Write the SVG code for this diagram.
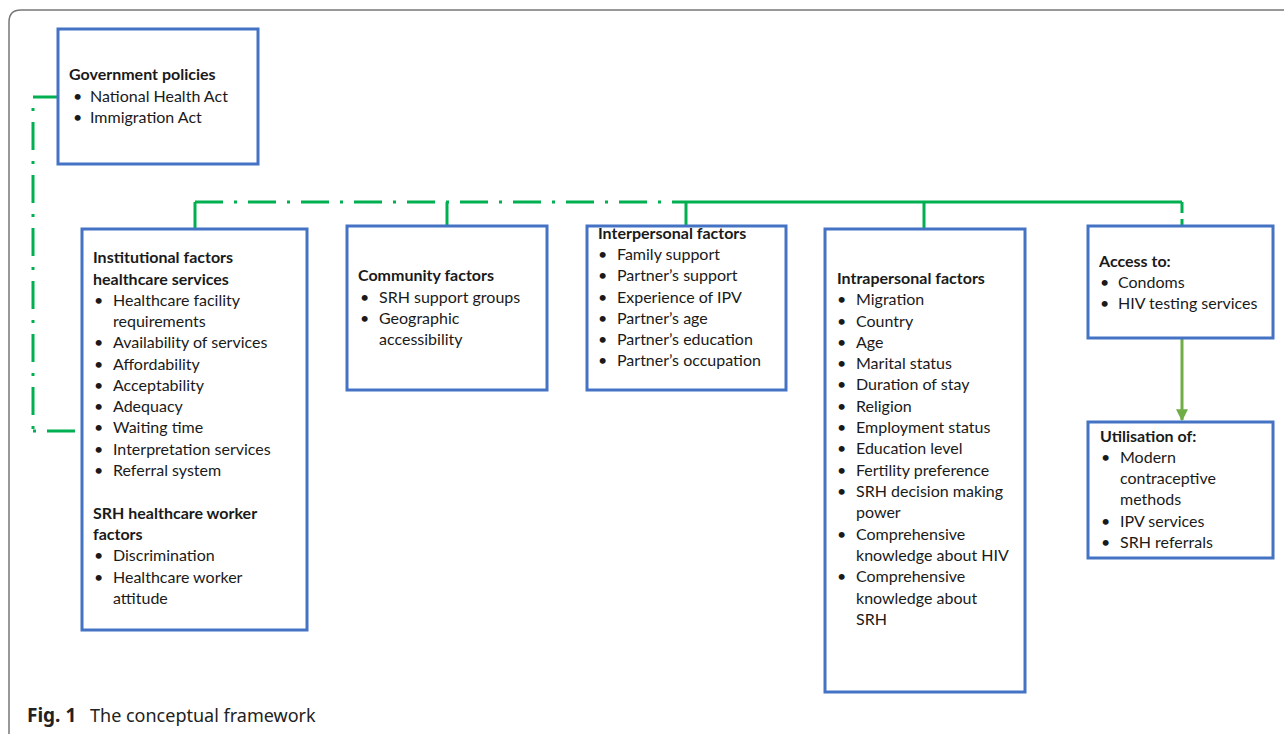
<svg xmlns="http://www.w3.org/2000/svg" width="1284" height="734" viewBox="0 0 1284 734">
<style>
.box{fill:#fff;stroke:#4472C4;stroke-width:3}
text{font-family:Lato,"Open Sans",sans-serif;font-size:16px;fill:#1a1a1a}
.t{font-weight:bold}
.dd{fill:none;stroke:#00B050;stroke-width:3;stroke-dasharray:28 11 3 11}
.sl{fill:none;stroke:#00B050;stroke-width:3}
.cap{font-family:"Noto Sans","Open Sans",sans-serif;font-size:18px;fill:#222}
</style>
<defs>
<marker id="ah" viewBox="0 0 10 10" refX="9" refY="5" markerWidth="4" markerHeight="4" orient="auto">
<path d="M0,0 L10,5 L0,10 z" fill="#70AD47"/>
</marker>
</defs>
<rect x="0" y="0" width="1284" height="734" fill="#fff"/>
<path d="M9,734 V22 Q9,10 21,10 H1284" fill="none" stroke="#777" stroke-width="1.5"/>

<g id="connectors">
<path class="sl" d="M33,97 H58"/>
<path class="dd" d="M33,97 V431" stroke-dashoffset="28"/>
<path class="dd" d="M33,431 H82" stroke-dashoffset="39"/>
<path class="sl" d="M195,229 V202"/>
<path class="dd" d="M195,202 H672"/>
<path class="sl" d="M672,202 H1182"/>
<path class="sl" d="M447,202 V226"/>
<path class="sl" d="M686,202 V226"/>
<path class="sl" d="M924,202 V229"/>
<path class="sl" d="M1182,202 V226" stroke-dasharray="11 6 10"/>
<path d="M1182,338 V420" stroke="#70AD47" stroke-width="3" fill="none" marker-end="url(#ah)"/>
</g>

<g id="gov">
<rect class="box" x="58" y="29" width="200" height="135"/>
<text class="t" x="69" y="80">Government policies</text>
<text x="73" y="102">•</text><text x="90" y="102">National Health Act</text>
<text x="73" y="123">•</text><text x="90" y="123">Immigration Act</text>
</g>

<g id="institutional">
<rect class="box" x="82" y="229" width="225" height="401"/>
<text class="t" x="93" y="263">Institutional factors</text>
<text class="t" x="93" y="285">healthcare services</text>
<text x="94" y="306">•</text><text x="113" y="306">Healthcare facility</text>
<text x="113" y="327">requirements</text>
<text x="94" y="348">•</text><text x="113" y="348">Availability of services</text>
<text x="94" y="370">•</text><text x="113" y="370">Affordability</text>
<text x="94" y="391">•</text><text x="113" y="391">Acceptability</text>
<text x="94" y="412">•</text><text x="113" y="412">Adequacy</text>
<text x="94" y="433">•</text><text x="113" y="433">Waiting time</text>
<text x="94" y="455">•</text><text x="113" y="455">Interpretation services</text>
<text x="94" y="476">•</text><text x="113" y="476">Referral system</text>
<text class="t" x="93" y="519">SRH healthcare worker</text>
<text class="t" x="93" y="540">factors</text>
<text x="94" y="561">•</text><text x="113" y="561">Discrimination</text>
<text x="94" y="583">•</text><text x="113" y="583">Healthcare worker</text>
<text x="113" y="604">attitude</text>
</g>

<g id="community">
<rect class="box" x="347" y="226" width="200" height="164"/>
<text class="t" x="358" y="281">Community factors</text>
<text x="360" y="303">•</text><text x="379" y="303">SRH support groups</text>
<text x="360" y="324">•</text><text x="379" y="324">Geographic</text>
<text x="379" y="345">accessibility</text>
</g>

<g id="interpersonal">
<rect class="box" x="587" y="226" width="199" height="164"/>
<text class="t" x="598" y="239">Interpersonal factors</text>
<text x="598" y="260">•</text><text x="617" y="260">Family support</text>
<text x="598" y="281">•</text><text x="617" y="281">Partner’s support</text>
<text x="598" y="303">•</text><text x="617" y="303">Experience of IPV</text>
<text x="598" y="324">•</text><text x="617" y="324">Partner’s age</text>
<text x="598" y="345">•</text><text x="617" y="345">Partner’s education</text>
<text x="598" y="366">•</text><text x="617" y="366">Partner’s occupation</text>
</g>

<g id="intrapersonal">
<rect class="box" x="825" y="229" width="200" height="463"/>
<text class="t" x="837" y="284">Intrapersonal factors</text>
<text x="837" y="305">•</text><text x="856" y="305">Migration</text>
<text x="837" y="327">•</text><text x="856" y="327">Country</text>
<text x="837" y="348">•</text><text x="856" y="348">Age</text>
<text x="837" y="369">•</text><text x="856" y="369">Marital status</text>
<text x="837" y="390">•</text><text x="856" y="390">Duration of stay</text>
<text x="837" y="412">•</text><text x="856" y="412">Religion</text>
<text x="837" y="433">•</text><text x="856" y="433">Employment status</text>
<text x="837" y="454">•</text><text x="856" y="454">Education level</text>
<text x="837" y="476">•</text><text x="856" y="476">Fertility preference</text>
<text x="837" y="497">•</text><text x="856" y="497">SRH decision making</text>
<text x="856" y="518">power</text>
<text x="837" y="540">•</text><text x="856" y="540">Comprehensive</text>
<text x="856" y="561">knowledge about HIV</text>
<text x="837" y="582">•</text><text x="856" y="582">Comprehensive</text>
<text x="856" y="604">knowledge about</text>
<text x="856" y="625">SRH</text>
</g>

<g id="access">
<rect class="box" x="1088" y="226" width="185" height="112"/>
<text class="t" x="1099" y="267">Access to:</text>
<text x="1100" y="288">•</text><text x="1118" y="288">Condoms</text>
<text x="1100" y="309">•</text><text x="1118" y="309">HIV testing services</text>
</g>

<g id="utilisation">
<rect class="box" x="1088" y="422" width="185" height="136"/>
<text class="t" x="1100" y="442">Utilisation of:</text>
<text x="1101" y="463">•</text><text x="1120" y="463">Modern</text>
<text x="1120" y="484">contraceptive</text>
<text x="1120" y="505">methods</text>
<text x="1101" y="527">•</text><text x="1120" y="527">IPV services</text>
<text x="1101" y="548">•</text><text x="1120" y="548">SRH referrals</text>
</g>

<g id="caption">
<text class="cap" x="27" y="722"><tspan font-weight="bold" font-size="19">Fig. 1</tspan><tspan x="90">The conceptual framework</tspan></text>
</g>
</svg>
